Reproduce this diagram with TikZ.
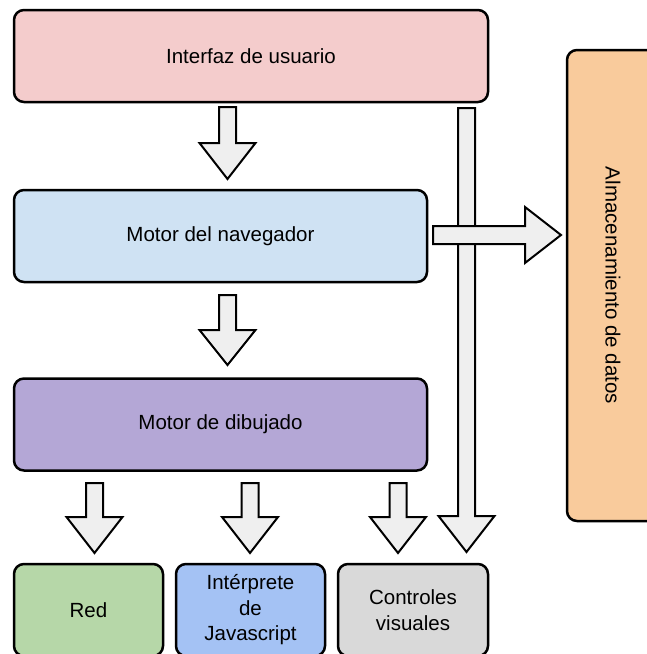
\documentclass[tikz,border=0pt]{standalone}
\usepackage{fontspec}
\setmainfont{Liberation Sans}
\definecolor{uipink}{HTML}{F4CCCC}
\definecolor{engblue}{HTML}{CFE2F3}
\definecolor{renderpurple}{HTML}{B4A7D6}
\definecolor{netgreen}{HTML}{B6D7A8}
\definecolor{jsblue}{HTML}{A4C2F4}
\definecolor{uigray}{HTML}{D9D9D9}
\definecolor{storeorange}{HTML}{F9CB9C}
\definecolor{arrowfill}{HTML}{EFEFEF}
\tikzset{
  box/.style={draw=black, line width=2.5pt, rounded corners=10pt, align=center,
    font=\fontsize{20.5}{25.5}\selectfont, inner sep=0pt},
  blockarrow/.style={draw=black, line width=2pt, fill=arrowfill, line join=miter}
}
% downward block arrow: centre x, top, neck, tip, shaft half width, head half width
\newcommand\blockdown[6]{%
  \draw[blockarrow] (#1-#5,#2) -- (#1+#5,#2) -- (#1+#5,#3) -- (#1+#6,#3)
    -- (#1,#4) -- (#1-#6,#3) -- (#1-#5,#3) -- cycle;}
\begin{document}
\begin{tikzpicture}[x=1pt, y=-1pt]
  \useasboundingbox (0,0) rectangle (647,654);
  \clip (0,0) rectangle (647,654);

  % layers
  \node[box, fill=uipink, minimum width=474, minimum height=92] (ui) at (251,56) {Interfaz de usuario};
  \node[box, fill=engblue, minimum width=413, minimum height=92] (eng) at (220.5,236) {Motor del navegador};
  \node[box, fill=renderpurple, minimum width=413, minimum height=92] (rend) at (220.5,424.5) {Motor de dibujado};
  \node[box, fill=netgreen, minimum width=149, minimum height=92] (net) at (88.5,610) {Red};
  \node[box, fill=jsblue, minimum width=149, minimum height=92] (js) at (250.5,610) {Intérprete\\de\\Javascript};
  \node[box, fill=uigray, minimum width=150, minimum height=92] (ctl) at (413,610) {Controles\\visuales};
  \node[box, fill=storeorange, minimum width=92, minimum height=471] (store) at (613,285.5) {};
  \node[rotate=-90, font=\fontsize{20.5}{25.5}\selectfont] (storelabel) at (store.center) {Almacenamiento de datos};

  % flow arrows
  \blockdown{227.5}{107}{143}{179}{8.5}{28}
  \blockdown{227.5}{295}{330}{365}{8.5}{28}
  \blockdown{94.5}{483}{517}{553}{8.5}{28}
  \blockdown{250}{483}{517}{553}{8.5}{28}
  \blockdown{398}{483}{517}{553}{8.5}{28}
  \blockdown{466.5}{108}{516}{552}{8.5}{28}
  % arrow from the browser engine to data storage
  \draw[blockarrow] (433,226) -- (525,226) -- (525,207) -- (561,235)
    -- (525,263) -- (525,244) -- (433,244) -- cycle;
\end{tikzpicture}
\end{document}
